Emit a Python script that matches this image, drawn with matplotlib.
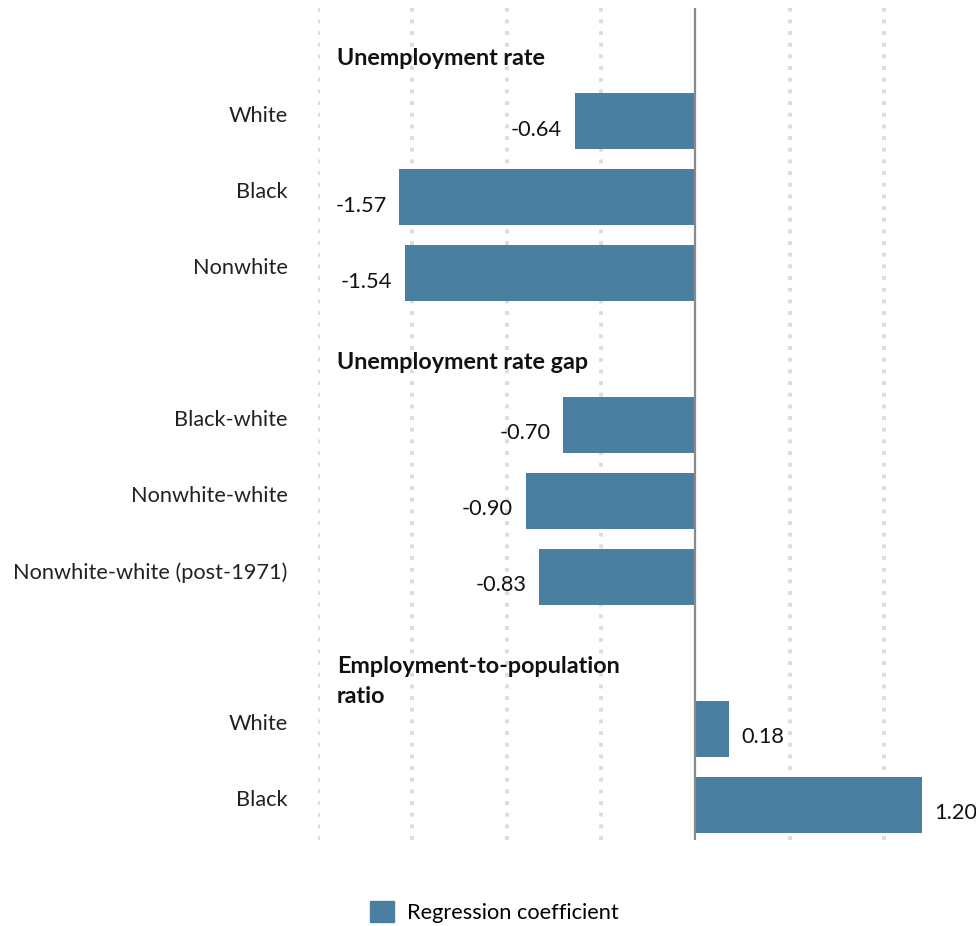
import numpy as np
import matplotlib.pyplot as plt
from matplotlib.patches import Patch

plt.rcParams['font.family'] = ['Lato', 'DejaVu Sans']

# data
labels = ['White', 'Black', 'Nonwhite',
          'Black-white', 'Nonwhite-white', 'Nonwhite-white (post-1971)',
          'White', 'Black']
values = [-0.64, -1.57, -1.54, -0.70, -0.90, -0.83, 0.18, 1.20]
positions = [1, 2, 3, 5, 6, 7, 9, 10]
headers = ['Unemployment rate', 'Unemployment rate gap', 'Employment-to-population\nratio']
header_pos = [0, 4, 8]

bar_color = '#4a7fa1'

fig = plt.figure(figsize=(9.76, 9.26), dpi=100)
ax = fig.add_axes([318 / 976, 1 - 840 / 926, 1 - 318 / 976, 832 / 926])

ax.barh(positions, values, height=0.74, color=bar_color, zorder=2)

for p, v in zip(positions, values):
    if v < 0:
        ax.annotate(f'{v:.2f}', (v, p), xytext=(-9, -6), textcoords='offset points',
                    ha='right', va='center', fontsize=15.7, color='#111111')
    else:
        ax.annotate(f'{v:.2f}', (v, p), xytext=(9, -6), textcoords='offset points',
                    ha='left', va='center', fontsize=15.7, color='#111111')

for h, p in zip(headers, header_pos):
    ax.text(-1.9, p + 0.04, h, ha='left', va='top', fontsize=16.8,
            fontweight='bold', color='#111111', linespacing=1.5)

ax.set_xlim(-2, 1.487)
ax.set_ylim(10.46, -0.49)
ax.set_yticks([p - 0.09 for p in positions])
ax.set_yticklabels(labels, fontsize=15.7, color='#222222')
ax.tick_params(axis='y', length=0, pad=22)
ax.set_xticks([-2, -1.5, -1, -0.5, 0.5, 1.0])
ax.tick_params(axis='x', length=0, labelbottom=False)
ax.grid(axis='x', color='#dcdcdc', linestyle=(0, (1, 2.0)), linewidth=2.8, zorder=0)
ax.axvline(0, color='#8a8a8a', linewidth=1.6, zorder=3)
for s in ax.spines.values():
    s.set_visible(False)

fig.legend(handles=[Patch(color=bar_color, label='Regression coefficient')],
           loc='lower center', bbox_to_anchor=(0.507, -0.018), frameon=False,
           fontsize=15.7, handlelength=1.1, handleheight=1.1, handletextpad=0.6)

fig.savefig('out.png', dpi=100)
